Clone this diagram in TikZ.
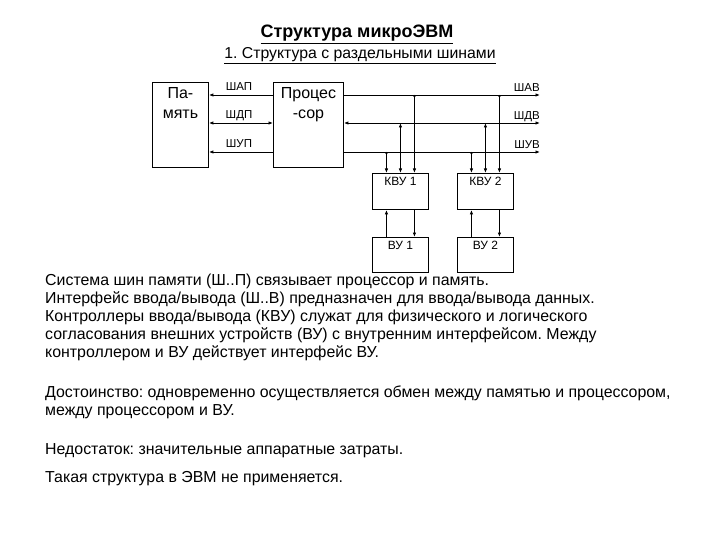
\documentclass[tikz,border=0pt]{standalone}
\usepackage{fontspec}
\setmainfont{Liberation Sans}
\usetikzlibrary{positioning,arrows.meta}
\frenchspacing

\begin{document}
\begin{tikzpicture}[
        x=1pt, y=-1pt,
        every node/.style={inner sep=0pt},
        unit/.style={draw, line width=0.9pt, minimum width=#1, anchor=north west},
        bigtext/.style={anchor=north, align=center, yshift=-5pt, font=\fontsize{16}{20}\selectfont},
        smalltext/.style={anchor=north, yshift=-4pt, font=\fontsize{12}{14}\selectfont},
        buslabel/.style={font=\fontsize{11.5}{13}\selectfont},
        body/.style={anchor=base west, font=\fontsize{15.9}{18}\selectfont},
        bus/.style={line width=0.9pt},
        tip/.style={-{Latex[length=4.5pt,width=3.5pt]}},
        twotip/.style={{Latex[length=4.5pt,width=3.5pt]}-{Latex[length=4.5pt,width=3.5pt]}},
        dottip/.style={{Circle[length=2.2pt]}-{Latex[length=4.5pt,width=3.5pt]}}
    ]
    \useasboundingbox (0,0) rectangle (720,540);

    \node[anchor=base, font=\fontsize{18}{20}\selectfont\bfseries] (title) at (357,38) {\underline{Структура микроЭВМ}};
    \node[anchor=base, font=\fontsize{15.8}{18}\selectfont] (subtitle) at (360,59) {\underline{1. Структура с раздельными шинами}};

    \node[unit=56pt, minimum height=85pt, label={[bigtext]north:Па-\\мять}] (mem) at (152,82) {};
    \node[unit=70pt, minimum height=85pt, label={[bigtext]north:Процес\\-сор}] (cpu) at (273,82) {};
    \node[unit=56pt, minimum height=36pt, label={[smalltext]north:КВУ 1}] (kvu1) at (372,173) {};
    \node[unit=56pt, minimum height=36pt, label={[smalltext]north:КВУ 2}] (kvu2) at (457,173) {};
    \node[unit=56pt, minimum height=35pt, label={[smalltext]north:ВУ 1}] (vu1) at (372,237) {};
    \node[unit=56pt, minimum height=35pt, label={[smalltext]north:ВУ 2}] (vu2) at (457,237) {};

    \coordinate (shav) at (540,95);
    \coordinate (shdv) at (540,123);
    \coordinate (shuv) at (540,152);

    \node[buslabel, anchor=base] (lshap) at (239,91) {ШАП};
    \node[buslabel, anchor=base] (lshdp) at (239,119) {ШДП};
    \node[buslabel, anchor=base] (lshup) at (239,148) {ШУП};
    \node[buslabel, anchor=base east] (lshav) at (540,92) {ШАВ};
    \node[buslabel, anchor=base east] (lshdv) at (540,120) {ШДВ};
    \node[buslabel, anchor=base east] (lshuv) at (540,149) {ШУВ};

    \draw[bus, tip] (cpu.west |- 0,95) -- (mem.east |- 0,95);
    \draw[bus, twotip] (cpu.west |- 0,123) -- (mem.east |- 0,123);
    \draw[bus, tip] (cpu.west |- 0,152) -- (mem.east |- 0,152);

    \draw[bus, tip] (cpu.east |- shav) -- (shav);
    \draw[bus, twotip] (cpu.east |- shdv) -- (shdv);
    \draw[bus, tip] (cpu.east |- shuv) -- (shuv);

    \draw[bus, dottip] ([xshift=-14pt]kvu1.north |- shuv) -- ([xshift=-14pt]kvu1.north);
    \draw[bus, twotip] (kvu1.north |- shdv) -- (kvu1.north);
    \draw[bus, dottip] ([xshift=14pt]kvu1.north |- shav) -- ([xshift=14pt]kvu1.north);
    \draw[bus, dottip] ([xshift=-14pt]kvu2.north |- shuv) -- ([xshift=-14pt]kvu2.north);
    \draw[bus, twotip] (kvu2.north |- shdv) -- (kvu2.north);
    \draw[bus, dottip] ([xshift=14pt]kvu2.north |- shav) -- ([xshift=14pt]kvu2.north);

    \draw[bus, tip] ([xshift=-14pt]vu1.north) -- ([xshift=-14pt]kvu1.south);
    \draw[bus, tip] ([xshift=14pt]kvu1.south) -- ([xshift=14pt]vu1.north);
    \draw[bus, tip] ([xshift=-14pt]vu2.north) -- ([xshift=-14pt]kvu2.south);
    \draw[bus, tip] ([xshift=14pt]kvu2.south) -- ([xshift=14pt]vu2.north);

    \node[body] (t1) at (45,285) {Система шин памяти (Ш..П) связывает процессор и память.};
    \node[body] (t2) at (45,303) {Интерфейс ввода/вывода (Ш..В) предназначен для ввода/вывода данных.};
    \node[body] (t3) at (45,321) {Контроллеры ввода/вывода (КВУ) служат для физического и логического};
    \node[body] (t4) at (45,339) {согласования внешних устройств (ВУ) с внутренним интерфейсом. Между};
    \node[body] (t5) at (45,357) {контроллером и ВУ действует интерфейс ВУ.};
    \node[body] (t6) at (45,397) {Достоинство: одновременно осуществляется обмен между памятью и процессором,};
    \node[body] (t7) at (45,415) {между процессором и ВУ.};
    \node[body] (t8) at (45,454) {Недостаток: значительные аппаратные затраты.};
    \node[body] (t9) at (45,482) {Такая структура в ЭВМ не применяется.};
\end{tikzpicture}
\end{document}
